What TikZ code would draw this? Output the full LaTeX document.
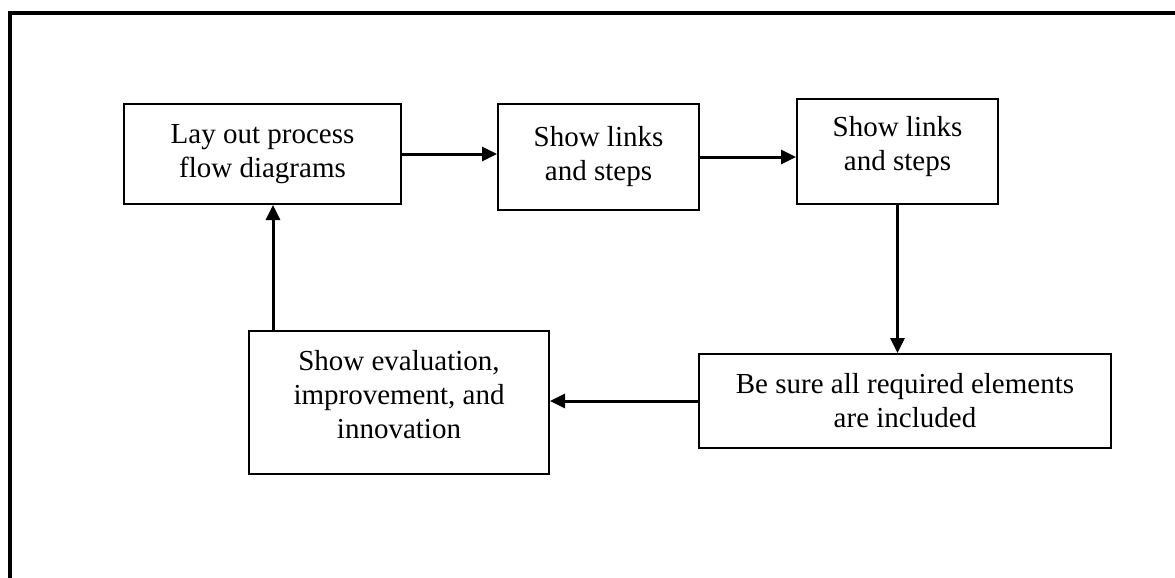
\documentclass[tikz,border=0pt]{standalone}
\usepackage{fontspec}
\setmainfont{Liberation Serif}
\usetikzlibrary{arrows.meta}

\begin{document}
\begin{tikzpicture}[x=0.5pt,y=-0.5pt,>={Triangle[length=7.5pt,width=7pt]},
  b/.style={draw,line width=1pt,align=center,inner sep=0pt,font=\fontsize{14.5}{17}\selectfont},
  arr/.style={->,line width=1.5pt}]
\useasboundingbox (0,0) rectangle (1175,578);
% frame, only top and left edge show
\draw[line width=2.2pt] (10,578) -- (10,13) -- (1175,13);
% steps
\node[b,minimum width=138.5pt,minimum height=50pt] (lay) at (262.5,154) {Lay out process\\flow diagrams};
\node[b,minimum width=100.5pt,minimum height=53pt] (links1) at (598.5,157) {Show links\\and steps};
\node[b,minimum width=100.5pt,minimum height=52.5pt,text depth=8pt] (links2) at (897.5,151.5) {Show links\\and steps};
\node[b,minimum width=206pt,minimum height=47pt] (check) at (905,401) {Be sure all required elements\\are included};
\node[b,minimum width=150pt,minimum height=71.5pt,text depth=8pt] (eval) at (399,402.5) {Show evaluation,\\improvement, and\\innovation};
% arrows
\draw[arr] (lay.east) -- (lay.east -| links1.west);
\draw[arr] (links1.east) -- (links1.east -| links2.west);
\draw[arr] (links2.south) -- (links2.south |- check.north);
\draw[arr] (check.west) -- (check.west -| eval.east);
\draw[arr] ([xshift=12.5pt]eval.north west) -- ([xshift=12.5pt]eval.north west |- lay.south);
\end{tikzpicture}
\end{document}
